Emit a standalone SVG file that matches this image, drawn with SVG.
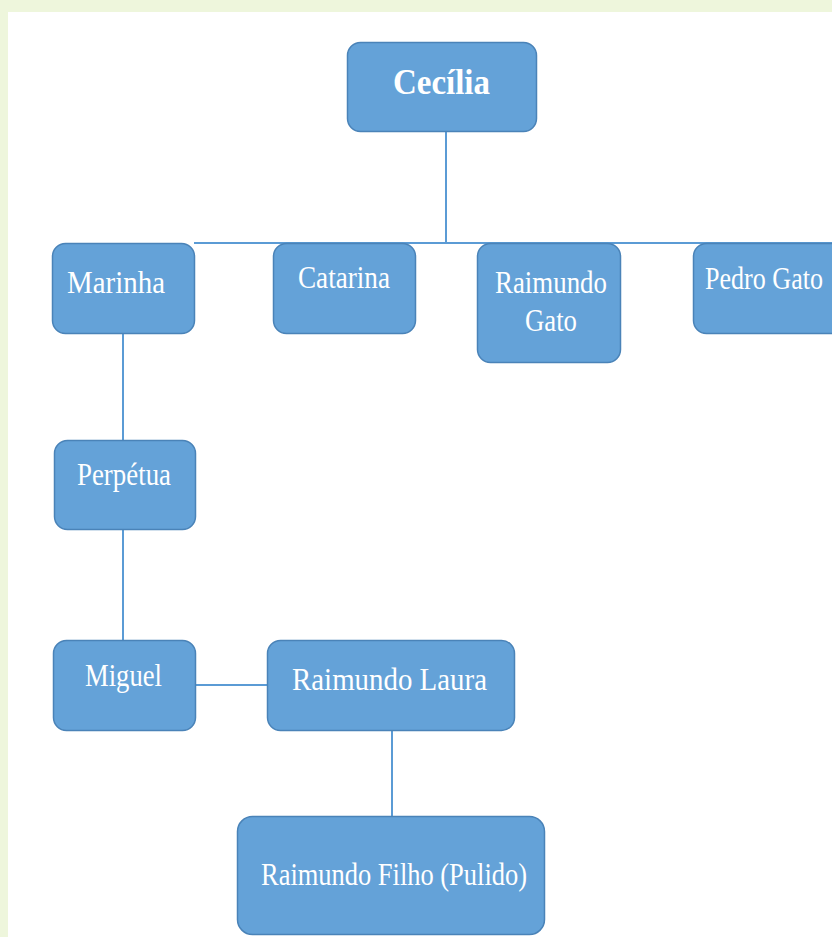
<svg xmlns="http://www.w3.org/2000/svg" width="832" height="937" viewBox="0 0 832 937">
<style>
.box{fill:#64a2d8;stroke:#4a83b8;stroke-width:1.5}
.t{font-family:"Liberation Serif","Times New Roman",serif;font-size:31px;fill:#ffffff}
.b{font-weight:bold;font-size:35px}
.ln{stroke:#5b9bd5;stroke-width:2;fill:none}
</style>
<rect x="0" y="0" width="832" height="937" fill="#eef6dc"/>
<rect x="8" y="12" width="824" height="925" fill="#ffffff"/>
<g id="connectors">
<path class="ln" d="M446 132V243M194 243H832"/>
<path class="ln" d="M123 334V440M123 530V640"/>
<path class="ln" d="M196 685H268"/>
<path class="ln" d="M392 731V816"/>
</g>
<g id="cecilia"><rect class="box" x="347.5" y="42.5" width="189" height="89" rx="13"/><text class="t b" x="393" y="94" textLength="97" lengthAdjust="spacingAndGlyphs">Cecília</text></g>
<g id="marinha"><rect class="box" x="52.5" y="243.5" width="142" height="90" rx="13"/><text class="t" x="67" y="293" textLength="98" lengthAdjust="spacingAndGlyphs">Marinha</text></g>
<g id="catarina"><rect class="box" x="273.5" y="243.5" width="142" height="90" rx="13"/><text class="t" x="298" y="288" textLength="92" lengthAdjust="spacingAndGlyphs">Catarina</text></g>
<g id="raimundo-gato"><rect class="box" x="477.5" y="243.5" width="143" height="119" rx="13"/><text class="t" x="495" y="293" textLength="112" lengthAdjust="spacingAndGlyphs">Raimundo</text><text class="t" x="525" y="331" textLength="52" lengthAdjust="spacingAndGlyphs">Gato</text></g>
<g id="pedro-gato"><rect class="box" x="693.5" y="243.5" width="150" height="90" rx="13"/><text class="t" x="705" y="289" textLength="118" lengthAdjust="spacingAndGlyphs">Pedro Gato</text></g>
<g id="perpetua"><rect class="box" x="54.5" y="440.5" width="141" height="89" rx="13"/><text class="t" x="77" y="485" textLength="94" lengthAdjust="spacingAndGlyphs">Perpétua</text></g>
<g id="miguel"><rect class="box" x="53.5" y="640.5" width="142" height="90" rx="13"/><text class="t" x="85" y="686" textLength="77" lengthAdjust="spacingAndGlyphs">Miguel</text></g>
<g id="raimundo-laura"><rect class="box" x="267.5" y="640.5" width="247" height="90" rx="13"/><text class="t" x="292" y="690" textLength="195" lengthAdjust="spacingAndGlyphs">Raimundo Laura</text></g>
<g id="raimundo-filho"><rect class="box" x="237.5" y="816.5" width="307" height="118" rx="15"/><text class="t" x="261" y="885" textLength="266" lengthAdjust="spacingAndGlyphs">Raimundo Filho (Pulido)</text></g>
</svg>
